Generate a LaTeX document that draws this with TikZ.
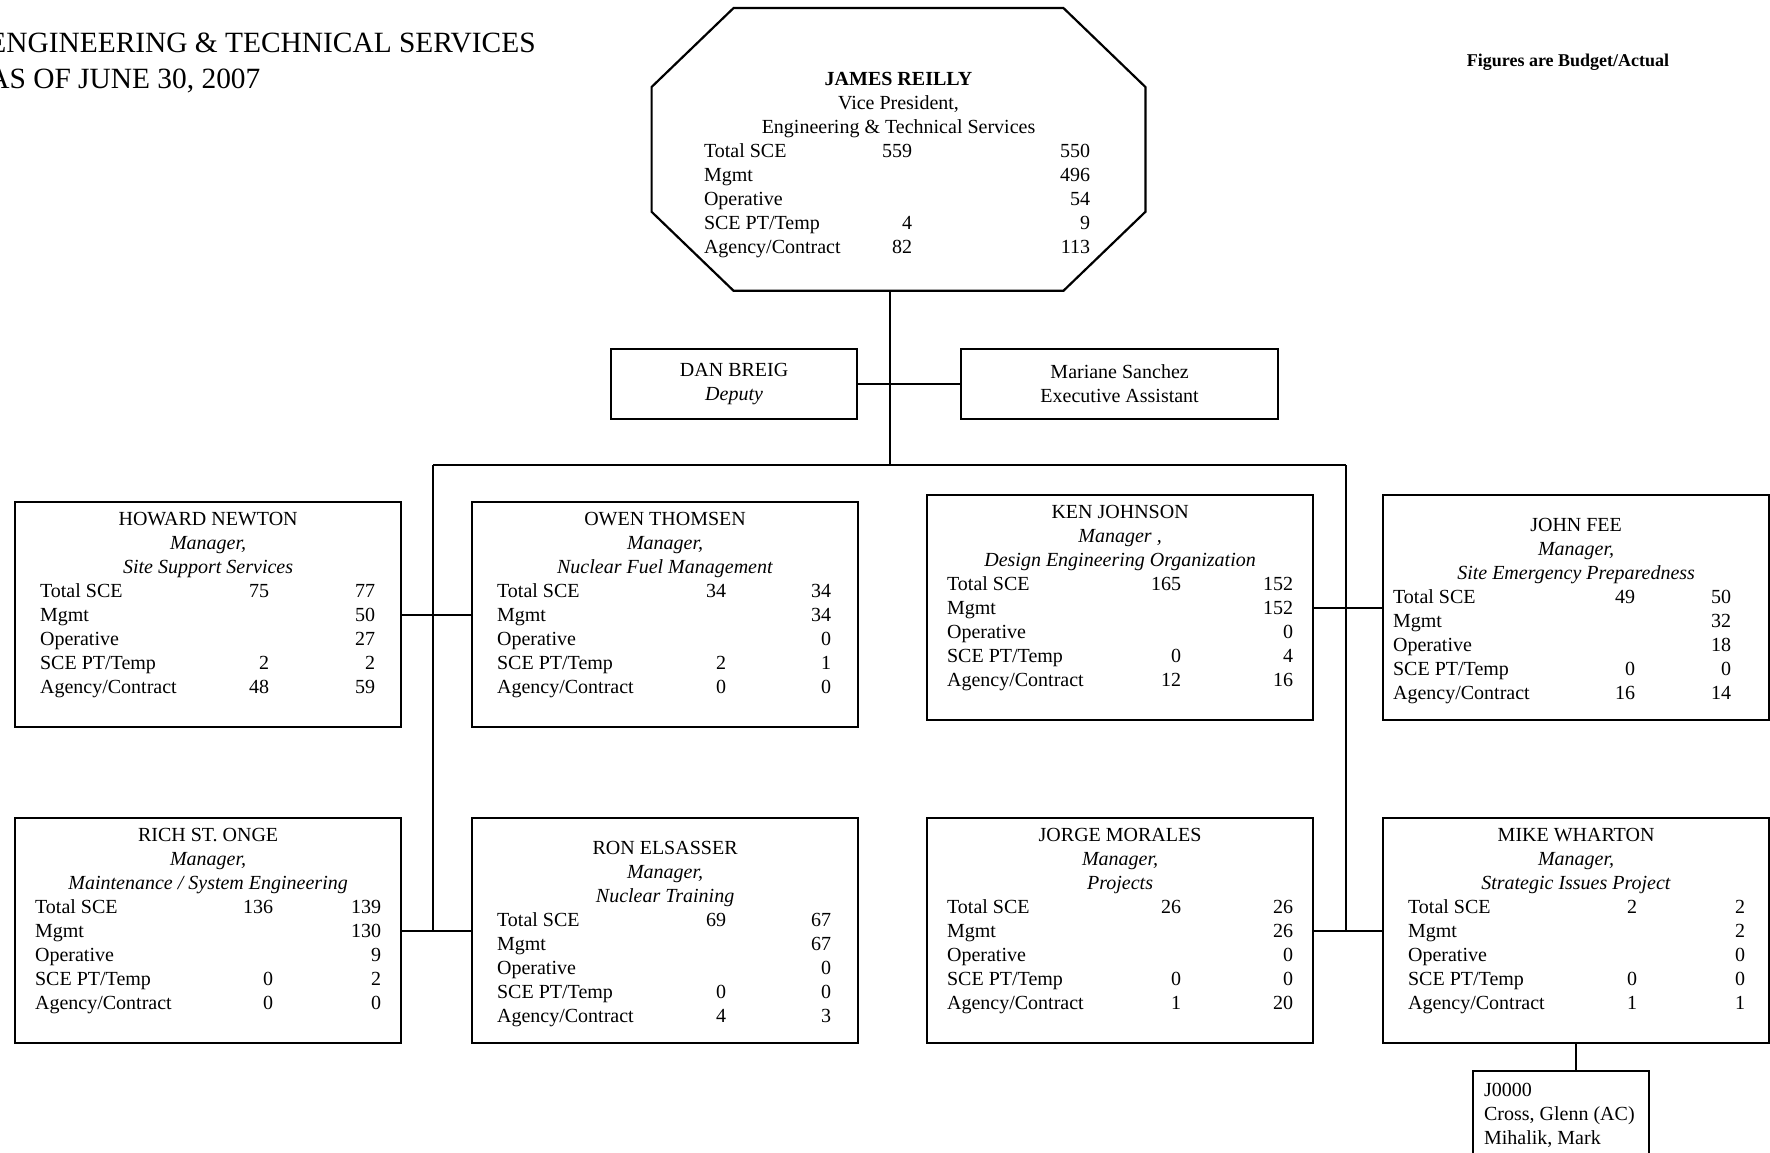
\documentclass[tikz,border=0pt]{standalone}
\usepackage{fontspec}
\setmainfont{Liberation Serif}
\usepackage{array}
\usetikzlibrary{positioning,calc}

\newcolumntype{R}[1]{>{\raggedleft\arraybackslash}p{#1}}
% label start, first figure right, second figure right, box width
\newenvironment{figs}[4]{%
  \begin{tabular}[t]{@{\hspace{#1}}p{\dimexpr#2-#1-30pt\relax}@{}R{30pt}@{}R{\dimexpr#3-#2\relax}@{\hspace{\dimexpr#4-#3\relax}}}}
  {\end{tabular}}

\begin{document}
\begin{tikzpicture}[x=0.5pt, y=-0.5pt,
    every node/.style={inner sep=0pt},
    unit/.style={draw, line width=1.1pt, anchor=north west, text height=11.8pt, text depth=100.7pt},
    unit low/.style={unit, text height=18pt, text depth=94.5pt},
    aide/.style={draw, line width=1.1pt, anchor=north west, minimum height=35pt, align=center},
    link/.style={line width=1.1pt}
]
\useasboundingbox (0,0) rectangle (1770,1152);

\node[anchor=base west, font=\fontsize{14.7}{18}\selectfont] (heading) at (-12,52) {ENGINEERING \& TECHNICAL SERVICES};
\node[anchor=base west, font=\fontsize{14.7}{18}\selectfont] (asof) at (-12,88) {AS OF JUNE 30, 2007};
\node[font=\fontsize{9}{11}\selectfont\bfseries] (note) at (1568,62) {Figures are Budget/Actual};

% vice president
\node[anchor=north, text height=38.3pt, text depth=102.7pt] (reilly) at (898.5,8) {\begin{figs}{26pt}{130pt}{219pt}{246.5pt}
    \multicolumn{3}{c}{\textbf{JAMES REILLY}}\\
    \multicolumn{3}{c}{Vice President,}\\
    \multicolumn{3}{c}{Engineering \& Technical Services}\\
    Total SCE & 559 & 550\\
    Mgmt & & 496\\
    Operative & & 54\\
    SCE PT/Temp & 4 & 9\\
    Agency/Contract & 82 & 113
  \end{figs}};
\draw[link] ([xshift=41pt]reilly.north west) -- ([xshift=-41pt]reilly.north east)
  -- ([yshift=-39.5pt]reilly.north east) -- ([yshift=39.5pt]reilly.south east)
  -- ([xshift=-41pt]reilly.south east) -- ([xshift=41pt]reilly.south west)
  -- ([yshift=39.5pt]reilly.south west) -- ([yshift=-39.5pt]reilly.north west) -- cycle;

\node[aide, minimum width=123pt] (breig) at (610,348) {DAN BREIG\\\textit{Deputy}};
\node[aide, minimum width=158.5pt] (sanchez) at (960,348) {Mariane Sanchez\\Executive Assistant};

% managers, upper row
\node[unit] (newton) at (14,501) {\begin{figs}{12.5pt}{127pt}{180pt}{193pt}
    \multicolumn{3}{c}{HOWARD NEWTON}\\
    \multicolumn{3}{c}{\textit{Manager,}}\\
    \multicolumn{3}{c}{\textit{Site Support Services}}\\
    Total SCE & 75 & 77\\
    Mgmt & & 50\\
    Operative & & 27\\
    SCE PT/Temp & 2 & 2\\
    Agency/Contract & 48 & 59
  \end{figs}};
\node[unit] (thomsen) at (471,501) {\begin{figs}{12.5pt}{127pt}{179.5pt}{193pt}
    \multicolumn{3}{c}{OWEN THOMSEN}\\
    \multicolumn{3}{c}{\textit{Manager,}}\\
    \multicolumn{3}{c}{\textit{Nuclear Fuel Management}}\\
    Total SCE & 34 & 34\\
    Mgmt & & 34\\
    Operative & & 0\\
    SCE PT/Temp & 2 & 1\\
    Agency/Contract & 0 & 0
  \end{figs}};
\node[unit] (johnson) at (926,494) {\begin{figs}{10pt}{127pt}{183pt}{193pt}
    \multicolumn{3}{c}{KEN JOHNSON}\\
    \multicolumn{3}{c}{\textit{Manager ,}}\\
    \multicolumn{3}{c}{\textit{Design Engineering Organization}}\\
    Total SCE & 165 & 152\\
    Mgmt & & 152\\
    Operative & & 0\\
    SCE PT/Temp & 0 & 4\\
    Agency/Contract & 12 & 16
  \end{figs}};
\node[unit low] (fee) at (1382,494) {\begin{figs}{5pt}{126pt}{174pt}{193pt}
    \multicolumn{3}{c}{JOHN FEE}\\
    \multicolumn{3}{c}{\textit{Manager,}}\\
    \multicolumn{3}{c}{\textit{Site Emergency Preparedness}}\\
    Total SCE & 49 & 50\\
    Mgmt & & 32\\
    Operative & & 18\\
    SCE PT/Temp & 0 & 0\\
    Agency/Contract & 16 & 14
  \end{figs}};

% managers, lower row
\node[unit] (stonge) at (14,817) {\begin{figs}{10pt}{129pt}{183pt}{193pt}
    \multicolumn{3}{c}{RICH ST. ONGE}\\
    \multicolumn{3}{c}{\textit{Manager,}}\\
    \multicolumn{3}{c}{\textit{Maintenance / System Engineering}}\\
    Total SCE & 136 & 139\\
    Mgmt & & 130\\
    Operative & & 9\\
    SCE PT/Temp & 0 & 2\\
    Agency/Contract & 0 & 0
  \end{figs}};
\node[unit low] (elsasser) at (471,817) {\begin{figs}{12.5pt}{127pt}{179.5pt}{193pt}
    \multicolumn{3}{c}{RON ELSASSER}\\
    \multicolumn{3}{c}{\textit{Manager,}}\\
    \multicolumn{3}{c}{\textit{Nuclear Training}}\\
    Total SCE & 69 & 67\\
    Mgmt & & 67\\
    Operative & & 0\\
    SCE PT/Temp & 0 & 0\\
    Agency/Contract & 4 & 3
  \end{figs}};
\node[unit] (morales) at (926,817) {\begin{figs}{10pt}{127pt}{183pt}{193pt}
    \multicolumn{3}{c}{JORGE MORALES}\\
    \multicolumn{3}{c}{\textit{Manager,}}\\
    \multicolumn{3}{c}{\textit{Projects}}\\
    Total SCE & 26 & 26\\
    Mgmt & & 26\\
    Operative & & 0\\
    SCE PT/Temp & 0 & 0\\
    Agency/Contract & 1 & 20
  \end{figs}};
\node[unit] (wharton) at (1382,817) {\begin{figs}{12.5pt}{127pt}{181pt}{193pt}
    \multicolumn{3}{c}{MIKE WHARTON}\\
    \multicolumn{3}{c}{\textit{Manager,}}\\
    \multicolumn{3}{c}{\textit{Strategic Issues Project}}\\
    Total SCE & 2 & 2\\
    Mgmt & & 2\\
    Operative & & 0\\
    SCE PT/Temp & 0 & 0\\
    Agency/Contract & 1 & 1
  \end{figs}};

\node[draw, line width=1.1pt, anchor=north west, text height=12.8pt, text depth=45pt] (j0000) at (1472,1070)
  {\begin{tabular}[t]{@{\hspace{5.5pt}}p{82.5pt}@{}}J0000\\Cross, Glenn (AC)\\Mihalik, Mark\end{tabular}};

% reporting lines
\coordinate (busL) at (433,465);
\coordinate (busR) at (1346,465);
\coordinate (drop) at (890,465);
\draw[link] (reilly.south -| drop) -- (drop);
\draw[link] (busL) -- (busR);
\draw[link] (breig) -- (sanchez);
\draw[link] (newton) -- (thomsen);
\draw[link] (stonge) -- (elsasser);
\draw[link] (johnson) -- (fee);
\draw[link] (morales) -- (wharton);
\draw[link] (busL) -- (busL |- stonge);
\draw[link] (busR) -- (busR |- morales);
\draw[link] (wharton.south) -- (wharton.south |- j0000.north);

\end{tikzpicture}
\end{document}
